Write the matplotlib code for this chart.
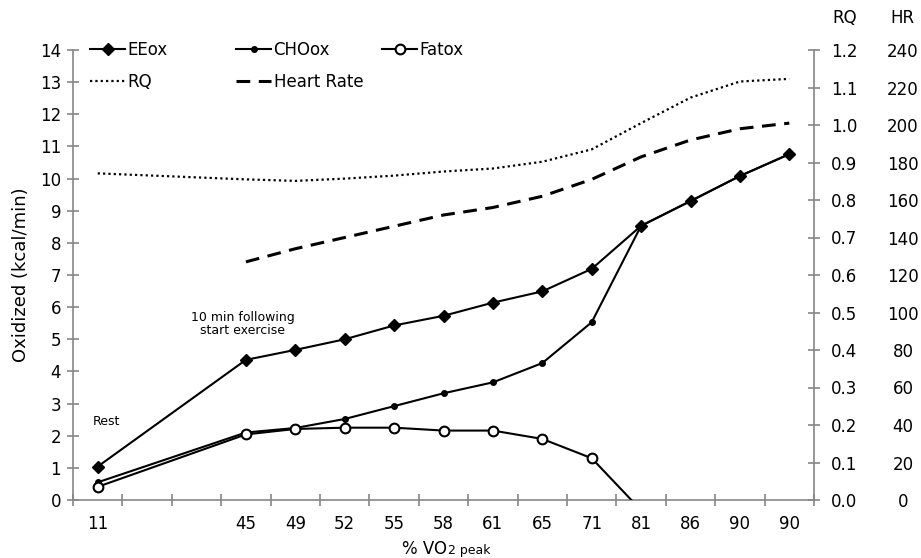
"""Oxidized substrates vs %VO2 peak, with RQ and heart rate on right axes."""
import numpy as np
import matplotlib
matplotlib.use("Agg")
import matplotlib.pyplot as plt
from matplotlib.ticker import FixedLocator, NullFormatter

plt.rcParams["font.family"] = ["DejaVu Sans"]

# %VO2 peak stages (first one is rest, followed by two empty slots on the axis)
vo2_labels = ["11", "45", "49", "52", "55", "58", "61", "65", "71", "81", "86", "90", "90"]
eeox = [1.04, 4.36, 4.67, 5.00, 5.43, 5.73, 6.14, 6.49, 7.19, 8.53, 9.30, 10.08, 10.76]
choox = [0.55, 2.10, 2.24, 2.52, 2.92, 3.32, 3.66, 4.26, 5.53, 8.53, 9.30, 10.08, 10.76]
fatox = [0.41, 2.04, 2.21, 2.25, 2.25, 2.16, 2.16, 1.90, 1.30, -0.32, np.nan, np.nan, np.nan]
rq = [0.871, 0.855, 0.851, 0.857, 0.865, 0.876, 0.884, 0.902, 0.935, 1.005, 1.073, 1.116, 1.123]
hr = [np.nan, 127, 134, 140, 146, 152, 156, 162, 171, 183, 192, 198, 201]

n_empty = 2
n_slots = len(vo2_labels) + n_empty
xpos = np.array([0] + list(range(1 + n_empty, n_slots)))
slot_labels = [vo2_labels[0]] + [""] * n_empty + vo2_labels[1:]

GREY = "#868686"
FS = 12

fig = plt.figure(figsize=(9.21, 5.58), dpi=100)
ax = fig.add_axes([73 / 921, 1 - 500 / 558, 741 / 921, 450 / 558])
ax2 = ax.twinx()
ax3 = ax.twinx()

# main series
l_ee, = ax.plot(xpos, eeox, "-", color="black", lw=1.5, marker="D", ms=6, label="EEox", zorder=4)
l_cho, = ax.plot(xpos, choox, "-", color="black", lw=1.5, marker="o", ms=4, label="CHOox", zorder=3)
l_fat, = ax.plot(xpos, fatox, "-", color="black", lw=1.5, marker="o", ms=7, mfc="white",
                 mec="black", mew=1.5, label="Fatox", zorder=3)
l_rq, = ax2.plot(xpos, rq, color="black", lw=1.6, linestyle=(0, (1, 1.4)), label="RQ")
l_hr, = ax3.plot(xpos, hr, color="black", lw=2.2, linestyle=(0, (4.5, 2.8)), label="Heart Rate")

ax.set_xlim(-0.5, n_slots - 0.5)
ax.set_ylim(0, 14)
ax2.set_ylim(0, 1.2)
ax3.set_ylim(0, 240)

for a in (ax, ax2, ax3):
    a.spines["top"].set_visible(False)
ax.spines["right"].set_visible(False)
for sp in ("left", "bottom", "right"):
    ax3.spines[sp].set_visible(False)
ax2.spines["left"].set_visible(False)
ax2.spines["bottom"].set_visible(False)
for sp in ("left", "bottom"):
    ax.spines[sp].set_color(GREY)
    ax.spines[sp].set_linewidth(1.2)
ax2.spines["right"].set_color(GREY)
ax2.spines["right"].set_linewidth(1.2)

# x axis: labels at slot centres, tick marks at slot boundaries
ax.set_xticks(np.arange(n_slots))
ax.set_xticklabels(slot_labels)
ax.xaxis.set_minor_locator(FixedLocator(np.arange(n_slots + 1) - 0.5))
ax.xaxis.set_minor_formatter(NullFormatter())
ax.tick_params(axis="x", which="major", length=0, pad=11, labelsize=FS)
ax.tick_params(axis="x", which="minor", direction="inout", length=9, width=1.2, color=GREY)

ax.set_yticks(np.arange(0, 15, 1))
ax.tick_params(axis="y", direction="inout", length=9, width=1.2, color=GREY, pad=4, labelsize=FS)

ax2.set_yticks(np.arange(0, 1.21, 0.1))
ax2.set_yticklabels([f"{v:.1f}" for v in np.arange(0, 1.21, 0.1)])
ax2.tick_params(axis="y", direction="inout", length=9, width=1.2, color=GREY, pad=8, labelsize=FS)

ax3.set_yticks(np.arange(0, 241, 20))
ax3.set_yticklabels([str(v) for v in range(0, 241, 20)], ha="center")
ax3.tick_params(axis="y", length=0, pad=64, labelsize=FS)

ax.text(1.042, 1.071, "RQ", transform=ax.transAxes, ha="center", va="center", fontsize=FS)
ax.text(1.119, 1.071, "HR", transform=ax.transAxes, ha="center", va="center", fontsize=FS)

ax.set_ylabel("Oxidized (kcal/min)", fontsize=13, labelpad=7)

# x label: "% VO" with a smaller "2 peak" on the same baseline
base_y = 1 - 554 / 558
fig.text(447 / 921, base_y, "% VO", fontsize=FS, ha="right", va="baseline")
fig.text(448 / 921, base_y, "2 peak", fontsize=9, ha="left", va="baseline")

ax.text(-0.11, 2.43, "Rest", fontsize=9, ha="left", va="center")
ax.text(2.93, 5.48, "10 min following\nstart exercise", fontsize=9, ha="center", va="center",
        linespacing=1.05)

# legend in three fixed columns, like the original
leg_kw = dict(frameon=False, fontsize=FS, handlelength=2.1, handletextpad=0.15,
              labelspacing=0.82, borderpad=0, borderaxespad=0, loc="upper left",
              bbox_transform=fig.transFigure, numpoints=1)
top = 1 - 41 / 558
leg1 = ax3.legend([l_ee, l_rq], ["EEox", "RQ"], bbox_to_anchor=(90 / 921, top), **leg_kw)
ax3.add_artist(leg1)
leg2 = ax3.legend([l_cho, l_hr], ["CHOox", "Heart Rate"], bbox_to_anchor=(236 / 921, top), **leg_kw)
ax3.add_artist(leg2)
ax3.legend([l_fat], ["Fatox"], bbox_to_anchor=(382 / 921, top), **leg_kw)

fig.savefig("out.png", dpi=100)
